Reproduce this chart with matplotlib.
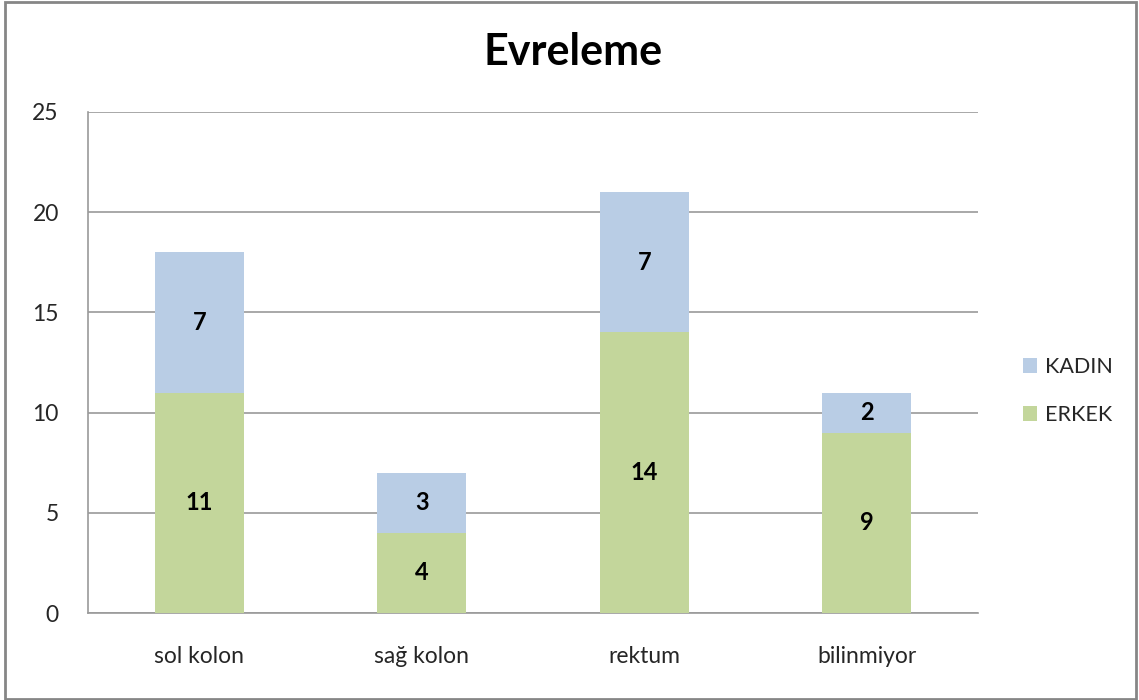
import matplotlib
matplotlib.use("Agg")
import matplotlib.pyplot as plt
import numpy as np

categories = ["sol kolon", "sağ kolon", "rektum", "bilinmiyor"]
erkek = [11, 4, 14, 9]
kadin = [7, 3, 7, 2]
y_ticks = [0, 5, 10, 15, 20, 25]

GREEN = "#C3D69B"
BLUE = "#B9CDE5"
GRID = "#9A9A9A"
TEXT = "#262626"

plt.rcParams["font.family"] = ["Lato", "DejaVu Sans"]

fig = plt.figure(figsize=(11.39, 7.0), dpi=100)
ax = fig.add_axes([88 / 1139, 87 / 700, 890 / 1139, 501 / 700])

x = np.arange(len(categories))
w = 0.4
b1 = ax.bar(x, erkek, w, color=GREEN, label="ERKEK", zorder=3)
b2 = ax.bar(x, kadin, w, bottom=erkek, color=BLUE, label="KADIN", zorder=3)

for bars, vals in ((b1, erkek), (b2, kadin)):
    for rect, v in zip(bars, vals):
        ax.text(rect.get_x() + rect.get_width() / 2,
                rect.get_y() + rect.get_height() / 2, str(v),
                ha="center", va="center", fontsize=17, fontweight="bold",
                color="black", zorder=4)

ax.set_xlim(-0.5, len(categories) - 0.5)
ax.set_ylim(0, 25)
ax.set_yticks(y_ticks)
ax.set_xticks(x)
ax.set_xticklabels(categories)
ax.tick_params(axis="both", length=0, labelsize=16.5, colors=TEXT)
ax.tick_params(axis="y", pad=21)
ax.tick_params(axis="x", pad=24)
ax.yaxis.grid(True, color=GRID, linewidth=1.2, zorder=0)
ax.set_axisbelow(True)
for side in ("top", "right"):
    ax.spines[side].set_visible(False)
ax.spines["left"].set_color(GRID)
ax.spines["bottom"].set_color(GRID)
ax.spines["left"].set_linewidth(1.2)
ax.spines["bottom"].set_linewidth(1.2)

fig.suptitle("Evreleme", x=573 / 1139, y=1 - 52 / 700, va="center",
             fontsize=31, fontweight="bold", color="black")

handles = [b2, b1]
leg = fig.legend(handles, ["KADIN", "ERKEK"], loc="center left",
                 bbox_to_anchor=(1004 / 1139, 1 - 391 / 700), frameon=False,
                 fontsize=15.5, handlelength=0.65, handleheight=0.65,
                 handletextpad=0.35, labelspacing=1.3)
for t in leg.get_texts():
    t.set_color(TEXT)

border = plt.Rectangle((5 / 1139, 1 / 700), 1131 / 1139, 697 / 700,
                       transform=fig.transFigure, fill=False,
                       edgecolor="#868686", linewidth=2)
fig.patches.append(border)

fig.savefig("out.png", dpi=100)
